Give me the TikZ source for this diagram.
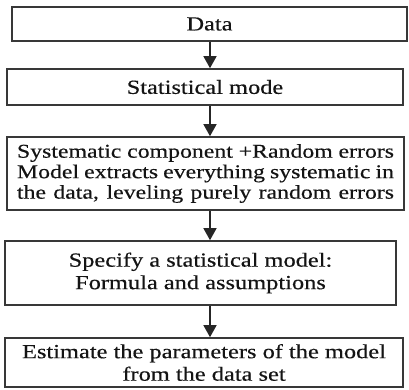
\documentclass[tikz,border=0pt]{standalone}
\usepackage{fontspec}
\setmainfont{Liberation Serif}[FakeStretch=1.22,FakeBold=0.4]
\usetikzlibrary{arrows.meta}

\newcommand{\spreadline}[1]{\makebox[377bp][s]{#1}}

\begin{document}
\begin{tikzpicture}[x=1bp,y=-1bp,
    flowbox/.style={draw=black!78, line width=1.6bp, inner sep=0pt, align=center,
        font=\fontsize{20bp}{22.5bp}\selectfont, text=black!92},
    flowarrow/.style={draw=black!85, line width=1.3bp, -{Triangle[width=13bp,length=12bp]}}]
    \useasboundingbox (0,0) rectangle (409,390);
    \coordinate (axis) at (210,0);

    \node[flowbox, minimum width=395bp, minimum height=34bp] (data) at (209.5,24) {Data};
    \node[flowbox, minimum width=396bp, minimum height=36bp] (mode) at (205,87) {Statistical mode};
    \node[flowbox, minimum width=397bp, minimum height=73bp,
        font=\fontsize{19.5bp}{20.5bp}\selectfont] (errors) at (205.5,173.5)
        {\spreadline{Systematic component +Random errors}\\
         \spreadline{Model extracts everything systematic in}\\
         \spreadline{the data, leveling purely random errors}};
    \node[flowbox, minimum width=391bp, minimum height=64bp] (specify) at (200.5,273)
        {Specify a statistical model:\\Formula and assumptions};
    \node[flowbox, minimum width=398bp, minimum height=49bp] (estimate) at (204,362.5)
        {Estimate the parameters of the model\\from the data set};

    \draw[flowarrow] (data.south -| axis) -- (mode.north -| axis);
    \draw[flowarrow] (mode.south -| axis) -- (errors.north -| axis);
    \draw[flowarrow] (errors.south -| axis) -- (specify.north -| axis);
    \draw[flowarrow] (specify.south -| axis) -- (estimate.north -| axis);
\end{tikzpicture}
\end{document}
